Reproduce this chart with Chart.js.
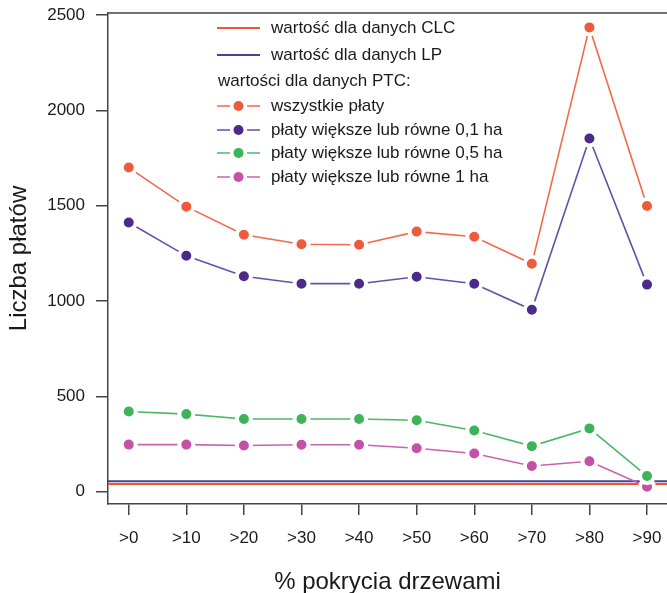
<!DOCTYPE html>
<html>
<head>
<meta charset="utf-8">
<script src="https://cdn.jsdelivr.net/npm/chart.js@4"></script>
<style>
  html, body { margin: 0; padding: 0; background: #fff; }
  #wrap { width: 667px; height: 593px; }
</style>
</head>
<body>
<div id="wrap"><canvas id="chart"></canvas></div>
<script>
const categories = ['>0', '>10', '>20', '>30', '>40', '>50', '>60', '>70', '>80', '>90']
const allPatches = [1700, 1495, 1348, 1298, 1295, 1364, 1337, 1195, 2435, 1498]
const patches01 = [1412, 1237, 1130, 1091, 1091, 1127, 1091, 954, 1852, 1086]
const patches05 = [421, 407, 381, 381, 381, 375, 321, 239, 332, 82]
const patches1 = [247, 247, 242, 246, 246, 228, 200, 135, 160, 26]
const clcValue = 40
const lpValue = 55
const yTicks = [0, 500, 1000, 1500, 2000, 2500]

const FONT = "'Liberation Sans', Arial, sans-serif"
const X_MIN = 0.64
const X_MAX = 10.347

const COLORS = {
    clc: '#f0553c',
    lp: '#4d3f8f',
    all: '#ee5a3c',
    p01: '#4b2a8a',
    p05: '#3db45a',
    p1: '#c550a8'
}

const LINE_COLORS = {
    all: '#f26a4d',
    p01: '#6650a6',
    p05: '#4cb866',
    p1: '#c963b0'
}

function toPoints(values) {
    return values.map((v, i) => ({ x: i + 1, y: v }))
}

function flatLine(value) {
    return [{ x: X_MIN, y: value }, { x: X_MAX, y: value }]
}

function pointSeries(label, values, key) {
    return {
        label: label,
        data: toPoints(values),
        borderColor: LINE_COLORS[key],
        borderWidth: 1.6,
        pointRadius: 7,
        pointBorderWidth: 4,
        pointBackgroundColor: COLORS[key],
        pointBorderColor: '#ffffff',
        tension: 0
    }
}

function noScalePadding(scale) {
    scale.paddingLeft = 0
    scale.paddingRight = 0
    scale.paddingTop = 0
    scale.paddingBottom = 0
}

// legend drawn inside the plot, like the R original
const legendItems = [
    { text: 'wartość dla danych CLC', color: COLORS.clc, kind: 'line' },
    { text: 'wartość dla danych LP', color: COLORS.lp, kind: 'line' },
    { text: 'wartości dla danych PTC:', kind: 'header' },
    { text: 'wszystkie płaty', color: COLORS.all, line: LINE_COLORS.all, kind: 'point' },
    { text: 'płaty większe lub równe 0,1 ha', color: COLORS.p01, line: LINE_COLORS.p01, kind: 'point' },
    { text: 'płaty większe lub równe 0,5 ha', color: COLORS.p05, line: LINE_COLORS.p05, kind: 'point' },
    { text: 'płaty większe lub równe 1 ha', color: COLORS.p1, line: LINE_COLORS.p1, kind: 'point' }
]
const legendRows = [28, 55, 81, 106, 130, 153, 177]

const frameAndLegend = {
    id: 'frameAndLegend',
    afterDraw(chart) {
        const ctx = chart.ctx
        const area = chart.chartArea
        ctx.save()
        ctx.strokeStyle = '#444'
        ctx.lineWidth = 1.5
        ctx.beginPath()
        ctx.moveTo(area.left, area.top)
        ctx.lineTo(area.right, area.top)
        ctx.stroke()

        ctx.font = '17px ' + FONT
        ctx.textBaseline = 'middle'
        ctx.textAlign = 'left'
        legendItems.forEach((item, i) => {
            const y = legendRows[i]
            if (item.kind === 'header') {
                ctx.fillStyle = '#1a1a1a'
                ctx.fillText(item.text, 218, y)
                return
            }
            if (item.kind === 'line') {
                ctx.strokeStyle = item.color
                ctx.lineWidth = 1.8
                ctx.beginPath()
                ctx.moveTo(217, y)
                ctx.lineTo(260, y)
                ctx.stroke()
            } else {
                ctx.strokeStyle = item.line
                ctx.lineWidth = 1.6
                ctx.beginPath()
                ctx.moveTo(217, y)
                ctx.lineTo(230, y)
                ctx.moveTo(247, y)
                ctx.lineTo(260, y)
                ctx.stroke()
                ctx.fillStyle = item.color
                ctx.beginPath()
                ctx.arc(238.5, y, 5, 0, Math.PI * 2)
                ctx.fill()
            }
            ctx.fillStyle = '#1a1a1a'
            ctx.fillText(item.text, 271, y)
        })
        ctx.restore()
    }
}

new Chart(document.getElementById('chart'), {
    type: 'line',
    data: {
        datasets: [
            pointSeries('wszystkie płaty', allPatches, 'all'),
            pointSeries('płaty większe lub równe 0,1 ha', patches01, 'p01'),
            pointSeries('płaty większe lub równe 0,5 ha', patches05, 'p05'),
            pointSeries('płaty większe lub równe 1 ha', patches1, 'p1'),
            {
                label: 'wartość dla danych LP',
                data: flatLine(lpValue),
                borderColor: COLORS.lp,
                borderWidth: 2,
                pointRadius: 0
            },
            {
                label: 'wartość dla danych CLC',
                data: flatLine(clcValue),
                borderColor: COLORS.clc,
                borderWidth: 2,
                pointRadius: 0
            }
        ]
    },
    options: {
        responsive: true,
        maintainAspectRatio: false,
        animation: false,
        events: [],
        layout: { autoPadding: false, padding: { top: 13, left: 0, right: 0, bottom: 0 } },
        plugins: {
            legend: { display: false },
            tooltip: { enabled: false }
        },
        scales: {
            x: {
                type: 'linear',
                min: X_MIN,
                max: X_MAX,
                afterBuildTicks: (scale) => {
                    scale.ticks = categories.map((_, i) => ({ value: i + 1 }))
                },
                afterFit: (scale) => {
                    scale.height = 89
                    noScalePadding(scale)
                },
                ticks: {
                    autoSkip: false,
                    maxRotation: 0,
                    padding: 13,
                    color: '#1a1a1a',
                    font: { family: FONT, size: 17 },
                    callback: (value) => categories[value - 1]
                },
                grid: {
                    drawOnChartArea: false,
                    drawTicks: true,
                    tickLength: 11,
                    color: '#444',
                    lineWidth: 1.5
                },
                border: { display: true, color: '#444', width: 1.5 },
                title: {
                    display: true,
                    text: '% pokrycia drzewami',
                    color: '#1a1a1a',
                    font: { family: FONT, size: 24, lineHeight: 1 },
                    padding: { top: 0, bottom: -1 }
                }
            },
            y: {
                type: 'linear',
                min: -64.5,
                max: 2510.5,
                afterBuildTicks: (scale) => {
                    scale.ticks = yTicks.map(v => ({ value: v }))
                },
                afterFit: (scale) => {
                    scale.width = 108
                    noScalePadding(scale)
                },
                ticks: {
                    padding: 11,
                    color: '#1a1a1a',
                    font: { family: FONT, size: 17 },
                    callback: (value) => String(value)
                },
                grid: {
                    drawOnChartArea: false,
                    drawTicks: true,
                    tickLength: 12,
                    color: '#444',
                    lineWidth: 1.5
                },
                border: { display: true, color: '#444', width: 1.5 },
                title: {
                    display: true,
                    text: 'Liczba płatów',
                    color: '#1a1a1a',
                    font: { family: FONT, size: 24, lineHeight: 1 },
                    padding: { top: 7, bottom: 0 }
                }
            }
        }
    },
    plugins: [frameAndLegend]
})
</script>
</body>
</html>
